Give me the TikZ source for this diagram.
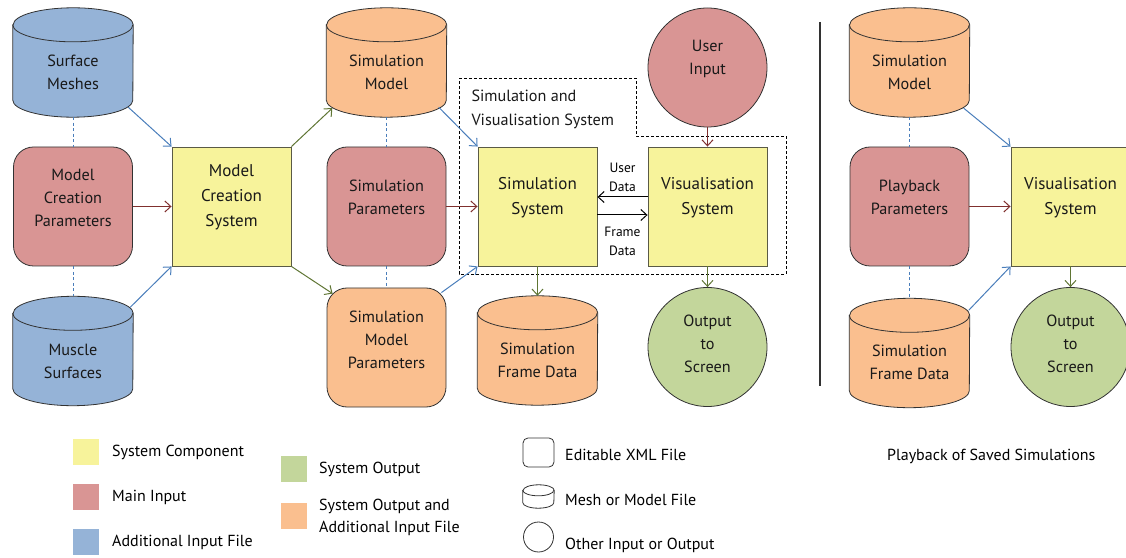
\documentclass[tikz,border=0pt]{standalone}
\usepackage{fontspec}
\setmainfont{PT Sans}
\usetikzlibrary{arrows.meta,calc}

\definecolor{sysyellow}{RGB}{247,243,155}
\definecolor{inred}{RGB}{217,149,148}
\definecolor{fileblue}{RGB}{149,179,215}
\definecolor{outorange}{RGB}{250,191,143}
\definecolor{outgreen}{RGB}{195,214,155}
\definecolor{lineblue}{RGB}{74,126,187}
\definecolor{linered}{RGB}{128,48,46}
\definecolor{linegreen}{RGB}{95,117,52}
\definecolor{edgegray}{RGB}{50,50,50}
\definecolor{sysedge}{RGB}{90,90,70}

\newcommand{\drum}[4]{%
    \draw[fill=#2, draw=edgegray, line width=0.8pt]
        ([yshift=-#4]#1.north west) -- ([yshift=#4]#1.south west)
        arc[start angle=180, end angle=360, x radius=#3, y radius=#4]
        -- ([yshift=-#4]#1.north east)
        arc[start angle=0, end angle=180, x radius=#3, y radius=#4] -- cycle;
    \draw[edgegray, line width=0.8pt] ([yshift=-#4]#1.north west)
        arc[start angle=180, end angle=360, x radius=#3, y radius=#4];
}

\tikzset{
    txt/.style={font=\fontsize{16.2}{23}\selectfont, align=center, text=black!90},
    systxt/.style={font=\fontsize{17}{25}\selectfont, align=center, text=black!90},
    xmlbox/.style={draw=edgegray, line width=0.8pt, rounded corners=20pt,
        minimum width=119pt, minimum height=119pt, inner sep=0pt},
    sysbox/.style={draw=sysedge, line width=0.9pt, fill=sysyellow,
        minimum width=119pt, minimum height=119pt, inner sep=0pt},
    mesh/.style={minimum width=120pt, minimum height=109pt, inner sep=0pt},
    ball/.style={circle, draw=edgegray, line width=0.8pt, minimum size=119pt, inner sep=0pt},
    feed/.style={-{Straight Barb[length=6pt,width=11pt]}, line width=1pt},
    link/.style={lineblue, line width=1pt, dash pattern=on 3pt off 2.5pt},
    swatch/.style={minimum size=26pt, inner sep=0pt},
    key/.style={font=\fontsize{16}{22}\selectfont, anchor=west, align=left, inner sep=0pt}
}

\begin{document}
\begin{tikzpicture}[x=1pt, y=1pt]
    \clip (0,0) rectangle (1126,557);

    \node (msh) at (73,494.5) [mesh] {};
    \node (mcp) at (73,350.5) [xmlbox, fill=inred] {};
    \node (mus) at (73,206) [mesh] {};
    \node (mcs) at (231.5,350.5) [sysbox] {};
    \drum{msh}{fileblue}{60pt}{17pt}
    \drum{mus}{fileblue}{60pt}{17pt}
    \node (msht) at ([yshift=-9.5pt]msh.center) [txt] {Surface\\Meshes};
    \node (mcpt) at ([yshift=9pt]mcp.center) [txt] {Model\\Creation\\Parameters};
    \node (must) at ([yshift=-10pt]mus.center) [txt] {Muscle\\Surfaces};
    \node (mcst) at ([yshift=9.5pt]mcs.center) [systxt] {Model\\Creation\\System};

    \node (smod) at (386.5,494.5) [mesh] {};
    \node (spar) at (386.5,350.5) [xmlbox, fill=inred] {};
    \node (smp) at (386.5,209.5) [xmlbox, fill=outorange] {};
    \drum{smod}{outorange}{60pt}{17pt}
    \node (smodt) at ([yshift=-9.5pt]smod.center) [txt] {Simulation\\Model};
    \node (spart) at ([yshift=9pt]spar.center) [txt] {Simulation\\Parameters};
    \node (smpt) at ([yshift=8pt]smp.center) [txt] {Simulation\\Model\\Parameters};

    \node (ssys) at (537.5,350.5) [sysbox] {};
    \node (vis) at (707.5,350.5) [sysbox] {};
    \node (uin) at (707.5,489.5) [ball, fill=inred] {};
    \node (out) at (707.5,210) [ball, fill=outgreen] {};
    \node (sfd) at (537.5,206.5) [mesh] {};
    \drum{sfd}{outorange}{60pt}{17pt}
    \node (ssyst) at ([yshift=9pt]ssys.center) [systxt] {Simulation\\System};
    \node (vist) at ([yshift=9pt]vis.center) [systxt] {Visualisation\\System};
    \node (uint) at ([yshift=8.5pt]uin.center) [txt] {User\\Input};
    \node (outt) at ([yshift=3pt]out.center) [txt] {Output\\to\\Screen};
    \node (sfdt) at ([yshift=-10pt]sfd.center) [txt] {Simulation\\Frame Data};

    \draw[black, line width=0.8pt, dash pattern=on 3pt off 2pt]
        (459,479) -- (636,479) -- (636,421) -- (786,421) -- (786,283) -- (459,283) -- cycle;
    \node (svs) at (468,448) [anchor=west, align=left, font=\fontsize{16.2}{24}\selectfont, text=black!90]
        {Simulation and\\Visualisation System};

    \draw[link] (msh.south) -- (mcp.north);
    \draw[link] (mcp.south) -- (mus.north);
    \draw[link] (smod.south) -- (spar.north);
    \draw[link] (spar.south) -- (smp.north);

    \draw[feed, lineblue] ($(msh.south east)+(-5,10)$) -- (mcs.north west);
    \draw[feed, lineblue] ($(mus.north east)+(-3,-11)$) -- (mcs.south west);
    \draw[feed, linered] (mcp.east) -- (mcs.west);
    \draw[feed, linegreen] (mcs.north east) -- ($(smod.south west)+(6,9)$);
    \draw[feed, linegreen] (mcs.south east) -- ($(smp.north west)+(6,-6)$);
    \draw[feed, lineblue] ($(smod.south east)+(-8,10)$) -- (ssys.north west);
    \draw[feed, linered] (spar.east) -- (ssys.west);
    \draw[feed, lineblue] ($(smp.north east)+(-5,-5)$) -- (ssys.south west);

    \draw[feed, black] ([yshift=9.5pt]vis.west) -- ([yshift=9.5pt]ssys.east)
        node (udat) [midway, above=2pt, align=center, font=\fontsize{13.5}{19}\selectfont] {User\\Data};
    \draw[feed, black] ([yshift=-8.5pt]ssys.east) -- ([yshift=-8.5pt]vis.west)
        node (fdat) [midway, below=8pt, align=center, font=\fontsize{13.5}{19}\selectfont] {Frame\\Data};
    \draw[feed, linered] (uin.south) -- (vis.north);
    \draw[feed, linegreen] (vis.south) -- (out.north);
    \draw[feed, linegreen] (ssys.south) -- (sfd.north);

    \draw[edgegray, line width=1.3pt] (820,535) -- (820,171);

    \begin{scope}[xshift=820]
        \node (pmod) at (89.5,494.5) [mesh] {};
        \node (play) at (89.5,350.5) [xmlbox, fill=inred] {};
        \node (pfd) at (89.5,204) [mesh] {};
        \node (pvis) at (250.5,350.5) [sysbox] {};
        \node (pout) at (250.5,210) [ball, fill=outgreen] {};
    \end{scope}
    \drum{pmod}{outorange}{60pt}{17pt}
    \drum{pfd}{outorange}{60pt}{17pt}
    \node (pmodt) at ([yshift=-9.5pt]pmod.center) [txt] {Simulation\\Model};
    \node (playt) at ([yshift=9pt]play.center) [txt] {Playback\\Parameters};
    \node (pfdt) at ([yshift=-9pt]pfd.center) [txt] {Simulation\\Frame Data};
    \node (pvist) at ([yshift=9pt]pvis.center) [systxt] {Visualisation\\System};
    \node (poutt) at ([yshift=3pt]pout.center) [txt] {Output\\to\\Screen};

    \draw[link] (pmod.south) -- (play.north);
    \draw[link] (play.south) -- (pfd.north);
    \draw[feed, lineblue] ($(pmod.south east)+(-6,9)$) -- (pvis.north west);
    \draw[feed, linered] (play.east) -- (pvis.west);
    \draw[feed, lineblue] ($(pfd.north east)+(-1,-12)$) -- (pvis.south west);
    \draw[feed, linegreen] (pvis.south) -- (pout.north);

    \node (kyel) at (86,105.5) [swatch, fill=sysyellow] {};
    \node (kred) at (86,60) [swatch, fill=inred] {};
    \node (kblu) at (86,15) [swatch, fill=fileblue] {};
    \node (kgrn) at (294,88) [swatch, fill=outgreen] {};
    \node (kora) at (294,41) [swatch, fill=outorange] {};
    \node (tyel) at (112,105) [key] {System Component};
    \node (tred) at (112,60) [key] {Main Input};
    \node (tblu) at (112,15) [key] {Additional Input File};
    \node (tgrn) at (319,88) [key] {System Output};
    \node (tora) at (319,40) [key] {System Output and\\Additional Input File};

    \node (kxml) at (538.5,104.5) [draw=edgegray, line width=0.8pt, rounded corners=5pt,
        minimum width=31pt, minimum height=29pt, inner sep=0pt] {};
    \node (kmsh) at (538.5,60.5) [minimum width=31pt, minimum height=23pt, inner sep=0pt] {};
    \drum{kmsh}{white}{15.5pt}{5.5pt}
    \node (kbal) at (538.5,20) [circle, draw=edgegray, line width=0.8pt, minimum size=30pt, inner sep=0pt] {};
    \node (txml) at (565,102) [key] {Editable XML File};
    \node (tmsh) at (565,57) [key] {Mesh or Model File};
    \node (tbal) at (565,12) [key] {Other Input or Output};

    \node (tply) at (887,101) [key] {Playback of Saved Simulations};
\end{tikzpicture}
\end{document}
